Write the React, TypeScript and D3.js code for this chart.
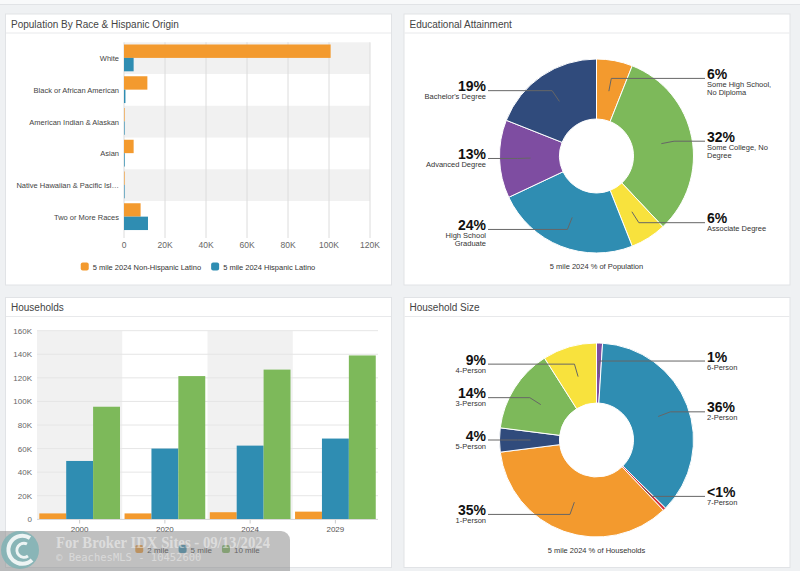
import React from 'react';
import * as d3 from 'd3';

// ---------- DATA ----------
const raceCategories = [
  'White',
  'Black or African American',
  'American Indian & Alaskan',
  'Asian',
  'Native Hawaiian & Pacific Islander',
  'Two or More Races',
];
const raceSeries = ['5 mile 2024 Non-Hispanic Latino', '5 mile 2024 Hispanic Latino'];
const raceNonHispanic = [100800, 11400, 150, 4700, 100, 8100];
const raceHispanic = [4700, 700, 300, 350, 100, 11700];
const raceTicks = [0, 20000, 40000, 60000, 80000, 100000, 120000];

const eduLabels = [
  'Some High School, No Diploma',
  'Some College, No Degree',
  'Associate Degree',
  'High School Graduate',
  'Advanced Degree',
  "Bachelor's Degree",
];
const eduValues = [6, 32, 6, 24, 13, 19];

const hhYears = ['2000', '2020', '2024', '2029'];
const hhSeries = ['2 mile', '5 mile', '10 mile'];
const hh2Mile = [5000, 5000, 6000, 6500];
const hh5Mile = [49500, 60000, 62500, 68500];
const hh10Mile = [95500, 121500, 127000, 139000];
const hhTicks = [0, 20000, 40000, 60000, 80000, 100000, 120000, 140000, 160000];

const sizeLabels = ['6-Person', '2-Person', '7-Person', '1-Person', '5-Person', '3-Person', '4-Person'];
const sizeValues = [1.0, 36.4, 0.5, 35.1, 4.0, 14.0, 9.0];

// ---------- STYLE ----------
const C = {
  orange: '#F39A2E',
  teal: '#2F8DB2',
  green: '#7DB95A',
  yellow: '#F8E23D',
  navy: '#304B7C',
  purple: '#7E4DA1',
  red: '#D2343E',
};
const FONT = "'Liberation Sans', Arial, Helvetica, sans-serif";

let ctx: CanvasRenderingContext2D | null = null;
function measure(text: string, size: number, weight = 'normal') {
  if (!ctx) {
    const c = document.createElement('canvas');
    ctx = c.getContext('2d');
  }
  if (!ctx) return text.length * size * 0.5;
  ctx.font = `${weight} ${size}px 'Liberation Sans'`;
  return ctx.measureText(text).width;
}
function wrap(text: string, size: number, maxW: number) {
  const words = text.split(' ');
  const lines: string[] = [];
  let cur = '';
  words.forEach((w) => {
    const t = cur ? cur + ' ' + w : w;
    if (cur && measure(t, size) > maxW) {
      lines.push(cur);
      cur = w;
    } else cur = t;
  });
  if (cur) lines.push(cur);
  return lines;
}
function truncate(text: string, size: number, maxW: number) {
  if (measure(text, size) <= maxW) return text;
  let t = text;
  while (t.length > 1 && measure(t + '…', size) > maxW) t = t.slice(0, -1);
  return t + '…';
}
const fmtK = (v: number) => (v === 0 ? '0' : `${v / 1000}K`);
const fmtPct = (v: number) => (v < 1 ? '<1%' : `${Math.round(v)}%`);

function Panel({ x, y, w, h, title }: any) {
  return (
    <g>
      <rect x={x + 0.5} y={y + 0.5} width={w} height={h} fill="#ffffff" stroke="#e1e3e6" />
      <line x1={x + 1} x2={x + w} y1={y + 19.5} y2={y + 19.5} stroke="#e8e9eb" />
      <text x={x + 6} y={y + 14} fontSize={10} fill="#444" fontFamily={FONT}>
        {title}
      </text>
    </g>
  );
}

function Legend({ items, colors, cx, y, size }: any) {
  const sym = 8, gap = 4, spacing = 10;
  const widths = items.map((t: string) => measure(t, size));
  const total = d3.sum(widths) + items.length * (sym + gap) + (items.length - 1) * spacing;
  let x = cx - total / 2;
  return (
    <g>
      {items.map((t: string, i: number) => {
        const x0 = x;
        x += sym + gap + widths[i] + spacing;
        return (
          <g key={t}>
            <rect x={x0} y={y - 7.5} width={sym} height={sym} rx={2} fill={colors[i]} />
            <text x={x0 + sym + gap} y={y} fontSize={size} fill="#333" fontFamily={FONT}>
              {t}
            </text>
          </g>
        );
      })}
    </g>
  );
}

function RaceChart() {
  const x = d3.scaleLinear().domain([0, 120000]).range([124, 370]);
  const y = d3.scaleBand().domain(raceCategories).range([42.3, 232.8]);
  const inner = d3.scaleBand().domain(raceSeries).range([2.2, 29]);
  const series = [raceNonHispanic, raceHispanic];
  const colors = [C.orange, C.teal];
  return (
    <g>
      {raceCategories.map((c, i) =>
        i % 2 === 0 ? (
          <rect key={c} x={x(0)} y={y(c)} width={x(120000) - x(0)} height={y.bandwidth()} fill="#f1f1f1" />
        ) : null
      )}
      {raceTicks.map((t) => (
        <g key={t}>
          <line x1={x(t)} x2={x(t)} y1={42.3} y2={238} stroke="#dcdcdc" />
          <text x={x(t)} y={247.5} fontSize={8.5} textAnchor="middle" fill="#666" fontFamily={FONT}>
            {fmtK(t)}
          </text>
        </g>
      ))}
      {raceCategories.map((c, i) => (
        <g key={c}>
          {series.map((s, j) => (
            <rect
              key={j}
              x={x(0)}
              y={(y(c) as number) + (inner(raceSeries[j]) as number)}
              width={Math.max(0.6, x(s[i]) - x(0))}
              height={inner.bandwidth()}
              fill={colors[j]}
            />
          ))}
          <text
            x={119}
            y={(y(c) as number) + y.bandwidth() / 2 + 3}
            fontSize={7.5}
            textAnchor="end"
            fill="#444"
            fontFamily={FONT}
          >
            {truncate(c, 7.5, 104)}
          </text>
        </g>
      ))}
      <Legend items={raceSeries} colors={colors} cx={198} y={270} size={7.5} />
    </g>
  );
}

function HouseholdsChart() {
  const y = d3.scaleLinear().domain([0, 160000]).range([519.3, 330.7]);
  const x = d3.scaleBand().domain(hhYears).range([37, 378]);
  const inner = d3.scaleBand().domain(hhSeries).range([2.3, 83]);
  const series = [hh2Mile, hh5Mile, hh10Mile];
  const colors = [C.orange, C.teal, C.green];
  return (
    <g>
      {hhYears.map((yr, i) =>
        i % 2 === 0 ? (
          <rect key={yr} x={x(yr)} y={y(160000)} width={x.bandwidth()} height={y(0) - y(160000)} fill="#f1f1f1" />
        ) : null
      )}
      {hhTicks.map((t) => (
        <g key={t}>
          <line x1={37} x2={378} y1={y(t)} y2={y(t)} stroke="#e6e6e6" />
          <text x={32} y={y(t) + 3} fontSize={8} textAnchor="end" fill="#666" fontFamily={FONT}>
            {fmtK(t)}
          </text>
        </g>
      ))}
      {hhYears.map((yr, i) => (
        <g key={yr}>
          {series.map((s, j) => (
            <rect
              key={j}
              x={(x(yr) as number) + (inner(hhSeries[j]) as number)}
              y={y(s[i])}
              width={inner.bandwidth()}
              height={y(0) - y(s[i])}
              fill={colors[j]}
            />
          ))}
          <line
            x1={(x(yr) as number) + x.bandwidth() / 2}
            x2={(x(yr) as number) + x.bandwidth() / 2}
            y1={519.3}
            y2={523.5}
            stroke="#ccc"
          />
          <text
            x={(x(yr) as number) + x.bandwidth() / 2}
            y={532}
            fontSize={8}
            textAnchor="middle"
            fill="#555"
            fontFamily={FONT}
          >
            {yr}
          </text>
        </g>
      ))}
      <line x1={37} x2={378} y1={519.5} y2={519.5} stroke="#d8d8d8" />
      <Legend items={hhSeries} colors={colors} cx={197.5} y={552.5} size={8} />
    </g>
  );
}

function Donut({ cx, cy, values, labels, colors, caption, captionY }: any) {
  const pie = d3.pie<number>().sort(null).value((d) => d)(values);
  const arc = d3.arc<any>().innerRadius(37).outerRadius(97);
  return (
    <g>
      {pie.map((p, i) => (
        <path key={i} d={arc(p) as string} transform={`translate(${cx},${cy})`} fill={colors[i]} stroke="#fff" strokeWidth={1} />
      ))}
      {pie.map((p, i) => {
        const a = (p.startAngle + p.endAngle) / 2;
        const s = Math.sin(a), c = Math.cos(a);
        const p0 = [cx + 66 * s, cy - 66 * c];
        const p1 = [cx + 79 * s, cy - 79 * c];
        const right = s >= 0;
        const ex = right ? cx + 108.5 : cx - 108.5;
        const tx = right ? cx + 110.5 : cx - 110.5;
        const anchor = right ? 'start' : 'end';
        const lines = wrap(labels[i], 7.5, 70);
        return (
          <g key={'l' + i}>
            <polyline
              points={`${p0[0]},${p0[1]} ${p1[0]},${p1[1]} ${ex},${p1[1]}`}
              fill="none"
              stroke="#666"
              strokeWidth={1}
            />
            <text x={tx} y={p1[1] + 0.5} fontSize={14} fontWeight="bold" textAnchor={anchor} fill="#111" fontFamily={FONT}>
              {fmtPct(values[i])}
            </text>
            {lines.map((l: string, k: number) => (
              <text key={k} x={tx} y={p1[1] + 8.5 + 8.5 * k} fontSize={7.5} textAnchor={anchor} fill="#333" fontFamily={FONT}>
                {l}
              </text>
            ))}
          </g>
        );
      })}
      <text x={cx} y={captionY} fontSize={7.5} textAnchor="middle" fill="#333" fontFamily={FONT}>
        {caption}
      </text>
    </g>
  );
}

function Watermark() {
  return (
    <g>
      <rect x={-10} y={531} width={300} height={50} rx={9} fill="#8c8c8c" opacity={0.55} />
      <circle cx={20} cy={550} r={19} fill="#7fb3b5" opacity={0.85} />
      <path d="M 30 538 A 14 14 0 1 0 32 560" fill="none" stroke="#fff" strokeWidth={4} opacity={0.85} />
      <path d="M 27 544 A 7 7 0 1 0 28 556" fill="none" stroke="#fff" strokeWidth={3} opacity={0.85} />
      <text
        x={56}
        y={548}
        fontSize={16}
        fontWeight="bold"
        fontFamily="'Liberation Serif', 'DejaVu Serif', serif"
        fill="#fff"
        opacity={0.45}
        textLength={214}
        lengthAdjust="spacingAndGlyphs"
      >
        For Broker IDX Sites - 09/13/2024
      </text>
      <text
        x={56}
        y={561}
        fontSize={10.5}
        fontFamily="'DejaVu Sans Mono', 'Liberation Mono', monospace"
        fill="#fff"
        opacity={0.4}
      >
        © BeachesMLS - 10452600
      </text>
    </g>
  );
}

export default function App() {
  return (
    <svg
      width={800}
      height={571}
      style={{ position: 'absolute', left: 0, top: 0, background: '#eff1f3' }}
      fontFamily={FONT}
    >
      <rect x={0} y={0} width={800} height={571} fill="#eff1f3" />
      <rect x={0} y={0} width={800} height={4} fill="#f8f9fa" />
      <line x1={0} x2={800} y1={4.5} y2={4.5} stroke="#e1e3e6" />
      <Panel x={5} y={13.5} w={386} h={271} title="Population By Race & Hispanic Origin" />
      <Panel x={403.5} y={13.5} w={386} h={271} title="Educational Attainment" />
      <Panel x={5} y={297} w={386} h={270} title="Households" />
      <Panel x={403.5} y={297} w={386} h={270} title="Household Size" />
      <RaceChart />
      <Donut
        cx={596.5}
        cy={156}
        values={eduValues}
        labels={eduLabels}
        colors={[C.orange, C.green, C.yellow, C.teal, C.purple, C.navy]}
        caption="5 mile 2024 % of Population"
        captionY={269}
      />
      <HouseholdsChart />
      <Donut
        cx={596.5}
        cy={440}
        values={sizeValues}
        labels={sizeLabels}
        colors={[C.purple, C.teal, C.red, C.orange, C.navy, C.green, C.yellow]}
        caption="5 mile 2024 % of Households"
        captionY={553}
      />
      <Watermark />
    </svg>
  );
}
